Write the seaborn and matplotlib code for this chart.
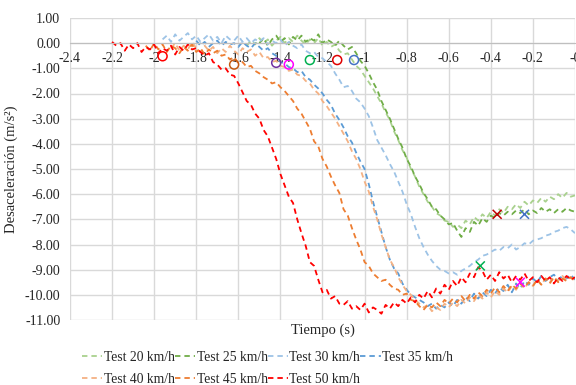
import numpy as np
import pandas as pd
import matplotlib
matplotlib.use("Agg")
import matplotlib.pyplot as plt
from matplotlib.ticker import FuncFormatter, MultipleLocator
import seaborn as sns

# datos (tiempo antes del fin, desaceleracion m/s2)
tests = ["Test 20 km/h", "Test 25 km/h", "Test 30 km/h", "Test 35 km/h",
         "Test 40 km/h", "Test 45 km/h", "Test 50 km/h"]
colores = ["#A9D18E", "#70AD47", "#9DC3E6", "#5B9BD5", "#F4B183", "#ED7D31", "#FF0000"]
t_inicio = [-1.56, -1.50, -1.96, -1.80, -1.92, -2.04, -2.20]

a_20 = [-0.1, 0.1, -0.05, 0.2, 0.0, 0.15, -0.1, 0.1, 0.25, 0.0,
        0.2, 0.05, 0.3, 0.1, -0.05, 0.15, 0.0, 0.2, -0.1, 0.05,
        -0.15, -0.05, -0.3, -0.45, -0.4, -0.65, -0.9, -1.05, -1.3, -1.55,
        -1.8, -2.1, -2.4, -2.75, -3.05, -3.5, -3.85, -4.25, -4.55, -5.0,
        -5.3, -5.7, -6.0, -6.3, -6.5, -6.75, -6.85, -7.05, -7.1, -7.3,
        -7.2, -7.35, -7.05, -7.2, -6.9, -7.05, -6.8, -6.95, -6.7, -6.85,
        -6.6, -6.75, -6.5, -6.6, -6.4, -6.55, -6.3, -6.45, -6.25, -6.35,
        -6.15, -6.3, -6.1, -6.2, -6.0, -6.15, -5.95, -6.1, -6.05]
a_25 = [0.0, 0.2, -0.1, 0.15, 0.3, 0.05, 0.2, -0.05, 0.25, 0.1,
        0.3, 0.05, 0.2, 0.1, 0.35, 0.0, 0.15, 0.05, -0.1, 0.1,
        -0.1, -0.25, -0.15, -0.4, -0.7, -0.9, -1.2, -1.55, -1.85, -2.3,
        -2.65, -3.0, -3.4, -3.8, -4.15, -4.6, -4.9, -5.3, -5.6, -5.95,
        -6.2, -6.5, -6.6, -6.85, -7.0, -7.2, -7.15, -7.45, -7.7, -7.35,
        -7.5, -7.1, -7.25, -6.95, -7.1, -6.85, -6.95, -6.75, -6.85, -6.7,
        -6.8, -6.65, -6.75, -6.6, -6.8, -6.65, -6.75, -6.55, -6.7, -6.6,
        -6.75, -6.6, -6.7, -6.55, -6.65, -6.7]
a_30 = [0.15, 0.3, 0.05, 0.35, 0.1, 0.25, 0.4, 0.15, 0.3, 0.05,
        0.2, 0.35, 0.1, 0.25, 0.0, 0.3, 0.15, 0.1, 0.3, 0.05,
        0.2, 0.0, 0.15, 0.05, 0.2, -0.05, 0.1, 0.0, 0.15, -0.1,
        0.05, -0.1, -0.2, -0.05, -0.3, -0.4, -0.35, -0.55, -0.6, -0.75,
        -0.9, -1.2, -1.45, -1.75, -1.7, -1.9, -2.2, -2.35, -2.6, -2.9,
        -3.35, -3.85, -4.15, -4.45, -4.8, -5.1, -5.5, -5.9, -6.4, -6.8,
        -7.3, -7.75, -8.1, -8.4, -8.65, -8.85, -9.0, -9.05, -9.15, -9.1,
        -9.2, -9.05, -8.95, -8.85, -8.7, -8.6, -8.45, -8.4, -8.3, -8.2,
        -8.25, -8.1, -8.15, -8.0, -8.2, -8.1, -7.95, -8.0, -7.85, -7.8,
        -7.75, -7.65, -7.6, -7.5, -7.45, -7.35, -7.3, -7.4, -7.55]
a_35 = [0.1, -0.1, 0.05, -0.15, 0.0, 0.1, -0.1, 0.05, -0.05, 0.0,
        -0.15, 0.05, -0.1, -0.2, 0.0, -0.15, -0.3, -0.2, -0.4, -0.5,
        -0.75, -0.8, -0.95, -1.0, -1.15, -1.1, -1.35, -1.45, -1.65, -1.8,
        -2.0, -2.25, -2.45, -2.8, -3.05, -3.35, -3.7, -3.95, -4.35, -4.7,
        -5.0, -5.6, -6.3, -6.9, -7.5, -8.1, -8.6, -8.95, -9.15, -9.55,
        -9.8, -10.0, -10.1, -10.2, -10.3, -10.45, -10.35, -10.55, -10.4, -10.5,
        -10.3, -10.45, -10.2, -10.35, -10.1, -10.25, -9.95, -10.15, -9.9, -10.05,
        -9.8, -9.95, -9.7, -9.85, -9.6, -9.9, -9.55, -9.75, -9.45, -9.6,
        -9.35, -9.5, -9.25, -9.45, -9.3, -9.2, -9.4, -9.25, -9.35, -9.2,
        -9.4]
a_40 = [-0.2, 0.0, -0.3, -0.1, -0.25, 0.05, -0.2, -0.35, -0.1, -0.3,
        -0.15, -0.4, -0.2, -0.35, -0.1, -0.3, -0.45, -0.2, -0.35, -0.25,
        -0.5, -0.35, -0.6, -0.55, -0.75, -0.7, -0.9, -0.95, -1.1, -1.05,
        -1.25, -1.3, -1.5, -1.6, -1.85, -2.0, -2.3, -2.5, -2.75, -3.0,
        -3.3, -3.6, -3.9, -4.3, -4.6, -5.0, -5.5, -5.9, -6.5, -7.0,
        -7.6, -8.1, -8.6, -8.9, -9.3, -9.6, -9.85, -10.0, -10.2, -10.35,
        -10.5, -10.4, -10.65, -10.5, -10.6, -10.35, -10.5, -10.3, -10.45, -10.2,
        -10.35, -10.1, -10.25, -10.0, -10.15, -9.9, -10.1, -9.85, -10.0, -9.75,
        -9.9, -9.65, -9.8, -9.55, -9.75, -9.5, -9.65, -9.4, -9.6, -9.35,
        -9.5, -9.3, -9.45, -9.25, -9.4, -9.3, -9.45]
a_45 = [-0.1, -0.3, 0.0, -0.25, -0.05, -0.35, -0.1, -0.2, -0.4, -0.15,
        -0.3, -0.05, -0.35, -0.2, -0.45, -0.25, -0.4, -0.3, -0.5, -0.45,
        -0.65, -0.55, -0.8, -0.75, -0.95, -0.9, -1.1, -1.2, -1.35, -1.45,
        -1.6, -1.55, -1.75, -1.9, -2.1, -2.3, -2.6, -2.8, -3.1, -3.4,
        -3.9, -4.1, -4.6, -4.9, -5.3, -5.65, -5.95, -6.6, -6.85, -7.35,
        -7.8, -8.2, -8.7, -8.85, -9.15, -9.3, -9.45, -9.4, -9.6, -9.75,
        -9.8, -10.0, -9.95, -10.2, -10.25, -10.45, -10.6, -10.4, -10.5, -10.3,
        -10.45, -10.2, -10.35, -10.15, -10.3, -10.05, -10.25, -10.0, -10.15, -9.9,
        -10.05, -9.8, -9.95, -9.7, -9.9, -9.65, -9.85, -9.6, -9.75, -9.55,
        -9.7, -9.5, -9.65, -9.4, -9.6, -9.35, -9.55, -9.3, -9.5, -9.35,
        -9.45, -9.3, -9.5]
a_50 = [0.05, -0.1, 0.0, -0.3, -0.05, -0.2, 0.0, -0.35, -0.15, -0.25,
        -0.05, -0.4, -0.2, -0.3, -0.1, -0.45, -0.15, -0.3, -0.05, -0.25, -0.2,
        -0.35, -0.5, -0.4, -0.75, -0.85, -1.05, -1.0, -1.25, -1.3, -1.6,
        -1.95, -2.3, -2.45, -2.8, -3.0, -3.45, -3.7, -4.15, -4.6, -5.2,
        -5.65, -6.1, -6.35, -7.0, -7.55, -8.05, -8.7, -8.85, -9.4, -9.9,
        -9.8, -10.15, -10.05, -10.35, -10.4, -10.25, -10.55, -10.45, -10.6, -10.35,
        -10.7, -10.5, -10.6, -10.75, -10.4, -10.55, -10.3, -10.45, -10.2, -10.35,
        -10.1, -10.3, -10.0, -10.15, -9.85, -10.1, -9.75, -9.95, -9.6, -9.8,
        -9.45, -9.65, -9.3, -9.5, -9.15, -9.3, -8.9, -9.05, -9.4, -9.2,
        -9.45, -9.1, -9.35, -9.2, -9.5, -9.25, -9.4, -9.15, -9.45, -9.3,
        -9.5, -9.25, -9.45, -9.3, -9.55, -9.3, -9.45, -9.25, -9.4, -9.3]
series = [a_20, a_25, a_30, a_35, a_40, a_45, a_50]

# marcadores de inicio (circulos) y de fin (cruces)
circ_t = [-1.96, -1.62, -1.42, -1.36, -1.26, -1.13, -1.05]
circ_a = [-0.52, -0.85, -0.78, -0.85, -0.67, -0.67, -0.67]
circ_col = ["#FF0000", "#C55A11", "#7030A0", "#FF00FF", "#00B050", "#E00000", "#4472C4"]
cruz_t = [-0.37, -0.24, -0.45, -0.26]
cruz_a = [-6.8, -6.8, -8.85, -9.5]
cruz_col = ["#C00000", "#4472C4", "#00B050", "#FF00FF"]

sns.set_style("white")
plt.rcParams["font.family"] = ["Liberation Serif", "DejaVu Serif"]
plt.rcParams["axes.unicode_minus"] = False

fig = plt.figure(figsize=(5.76, 3.85), dpi=100)
ax = fig.add_axes([70 / 576, 1 - 320 / 385, 505 / 576, 302 / 385])

for nombre, t0, vals, col in zip(tests, t_inicio, series, colores):
    df = pd.DataFrame({"t": np.linspace(t0, 0, len(vals)), "a": vals})
    sns.lineplot(data=df, x="t", y="a", color=col, lw=1.3, linestyle=(0, (3, 2.2)),
                 label=nombre, ax=ax, estimator=None, sort=False)

ax.scatter(circ_t, circ_a, s=42, facecolors="none", edgecolors=circ_col, linewidths=1.1, zorder=5)
ax.scatter(cruz_t, cruz_a, s=42, marker="x", c=cruz_col, linewidths=1.1, zorder=5)

ax.set_xlim(-2.4, 0)
ax.set_ylim(-11, 1)
ax.xaxis.set_major_locator(MultipleLocator(0.2))
ax.yaxis.set_major_locator(MultipleLocator(1))
ax.xaxis.set_major_formatter(FuncFormatter(lambda v, p: "%g" % round(v, 1)))
ax.yaxis.set_major_formatter(FuncFormatter(lambda v, p: "%.2f" % v))
ax.grid(True, color="#D9D9D9", lw=1)
ax.set_axisbelow(True)
for s in ["top", "right", "left"]:
    ax.spines[s].set_visible(False)
ax.spines["bottom"].set_position(("data", 0))
ax.spines["bottom"].set_color("#BFBFBF")
ax.tick_params(axis="x", length=0, pad=6, labelsize=10)
ax.tick_params(axis="y", length=0, pad=7, labelsize=10)

ax.set_xlabel("Tiempo (s)", fontsize=10.5)
ax.set_ylabel("Desaceleración (m/s²)", fontsize=10.5)
ax.xaxis.set_label_coords(0.5, -0.01)
ax.yaxis.set_label_coords(-0.103, 0.5)

h, l = ax.get_legend_handles_labels()
ax.get_legend().remove()
orden = [0, 4, 1, 5, 2, 6, 3]
fig.legend([h[i] for i in orden], [l[i] for i in orden], ncol=4, loc="upper left",
           bbox_to_anchor=(82 / 576, 1 - 351 / 385), frameon=False, fontsize=9.8,
           handlelength=1.5, handletextpad=0.1, columnspacing=0.0, labelspacing=0.65,
           borderpad=0, borderaxespad=0)

fig.savefig("out.png", dpi=100)
